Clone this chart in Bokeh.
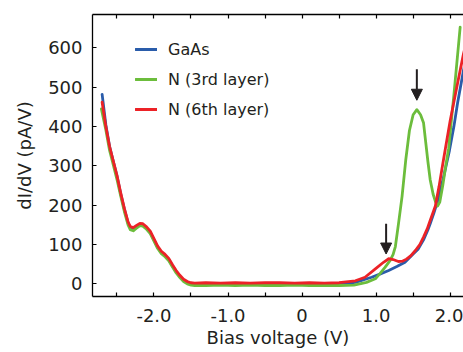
from bokeh.plotting import figure
from bokeh.models import (Range1d, LinearAxis, FixedTicker, Legend, LegendItem,
                          Arrow, NormalHead)
from bokeh.embed import file_html
from bokeh.resources import INLINE

# ---------------- data ----------------
gaas_x = [-2.70, -2.65, -2.60, -2.55, -2.50, -2.45, -2.40, -2.35, -2.32, -2.28, -2.24, -2.19,
          -2.15, -2.10, -2.05, -2.00, -1.95, -1.90, -1.85, -1.80, -1.75, -1.70, -1.65, -1.60,
          -1.55, -1.50, -1.45, -1.30, -1.10, -0.90, -0.70, -0.50, -0.30, -0.10, 0.10, 0.30,
          0.50, 0.72, 0.94, 1.05, 1.17, 1.28, 1.39, 1.50, 1.57, 1.64, 1.70, 1.73, 1.78, 1.82,
          1.87, 1.91, 1.95, 1.99, 2.05, 2.10, 2.18, 2.22]
gaas_y = [482, 405, 350, 312, 275, 230, 190, 155, 143, 140, 145, 151,
          150, 142, 131, 112, 93, 80, 72, 62, 46, 31, 19, 9,
          3, 0, -2, -2, -1, -2, -1, -2, -2, -1, -2, -1,
          -1, 4, 17, 25, 34, 44, 55, 76, 89, 112, 138, 153, 180, 204,
          240, 271, 305, 339, 400, 460, 543, 575]

n3_x = [-2.71, -2.65, -2.60, -2.55, -2.50, -2.45, -2.40, -2.35, -2.32, -2.28, -2.24, -2.19,
        -2.15, -2.10, -2.05, -2.00, -1.95, -1.90, -1.85, -1.80, -1.75, -1.70, -1.65, -1.60,
        -1.55, -1.50, -1.45, -1.30, -1.10, -0.90, -0.70, -0.50, -0.30, -0.10, 0.10, 0.30,
        0.50, 0.70, 0.87, 0.99, 1.06, 1.12, 1.19, 1.23, 1.26, 1.30, 1.35, 1.40, 1.45, 1.50,
        1.55, 1.60, 1.64, 1.67, 1.70, 1.73, 1.77, 1.80, 1.83, 1.86, 1.90, 1.94, 1.98, 2.05,
        2.135]
n3_y = [445, 392, 340, 303, 266, 224, 184, 150, 138, 135, 141, 148,
        147, 139, 128, 109, 90, 77, 69, 59, 43, 28, 16, 6,
        0, -3, -4, -4, -3, -4, -3, -4, -4, -3, -4, -4,
        -4, -3, 4, 13, 28, 42, 60, 75, 95, 150, 222, 315, 390, 430,
        443, 430, 410, 360, 310, 265, 228, 210, 198, 208, 250, 300, 345, 480,
        653]

n6_x = [-2.70, -2.65, -2.60, -2.55, -2.50, -2.45, -2.40, -2.35, -2.32, -2.28, -2.24, -2.19,
        -2.15, -2.10, -2.05, -2.00, -1.95, -1.90, -1.85, -1.80, -1.75, -1.70, -1.65, -1.60,
        -1.55, -1.50, -1.45, -1.30, -1.10, -0.90, -0.70, -0.50, -0.30, -0.10, 0.10, 0.30,
        0.50, 0.72, 0.85, 0.99, 1.10, 1.17, 1.23, 1.30, 1.36, 1.41, 1.47, 1.53, 1.59, 1.64,
        1.69, 1.73, 1.77, 1.80, 1.85, 1.90, 1.95, 2.00, 2.10, 2.18, 2.22]
n6_y = [462, 400, 350, 313, 276, 232, 192, 158, 146, 143, 148, 154,
        153, 145, 134, 115, 96, 83, 75, 65, 49, 34, 22, 12,
        6, 3, 2, 3, 2, 3, 2, 3, 3, 2, 3, 2,
        3, 8, 17, 38, 55, 64, 62, 57, 58, 63, 72, 85, 100, 119,
        140, 161, 182, 198, 248, 305, 360, 415, 510, 585, 615]

series_names = ["GaAs", "N (3rd layer)", "N (6th layer)"]
series_colors = ["#2a5caa", "#6cbd3c", "#ec2227"]

# arrows marking peaks (x, start y, end y)
arrow_x = [1.55, 1.135]
arrow_y_start = [546, 153]
arrow_y_end = [467, 76]

x_major = [-2, -1, 0, 1, 2]
x_minor = [-2.5, -1.5, -0.5, 0.5, 1.5]
x_labels = {-2: "-2.0", -1: "-1.0", 0: "0", 1: "1.0", 2: "2.0"}
y_ticks = [0, 100, 200, 300, 400, 500, 600]

FONT = "DejaVu Sans"
TXT = "#231f20"

# ---------------- figure ----------------
p = figure(width=463, height=352, output_backend="svg", toolbar_location=None,
           x_range=Range1d(-2.83, 2.18), y_range=Range1d(-32, 685),
           min_border_left=92, min_border_right=0, min_border_top=14, min_border_bottom=56,
           x_axis_location=None, y_axis_location=None)
p.outline_line_color = None
p.grid.visible = False
p.background_fill_color = "white"
p.border_fill_color = "white"

def style_axis(ax):
    ax.axis_line_color = "black"
    ax.axis_line_width = 1.3
    ax.major_tick_line_color = "black"
    ax.minor_tick_line_color = "black"
    ax.major_tick_line_width = 1.2
    ax.minor_tick_line_width = 1.2
    ax.major_tick_in = 4
    ax.major_tick_out = 0
    ax.minor_tick_in = 4
    ax.minor_tick_out = 0
    ax.major_label_text_font = FONT
    ax.major_label_text_font_size = "18px"
    ax.major_label_text_color = TXT
    ax.axis_label_text_font = FONT
    ax.axis_label_text_font_size = "18px"
    ax.axis_label_text_font_style = "normal"
    ax.axis_label_text_color = TXT

xb = LinearAxis(ticker=FixedTicker(ticks=x_major, minor_ticks=x_minor),
                axis_label="Bias voltage (V)", major_label_overrides=x_labels)
style_axis(xb)
xb.major_label_standoff = 12
xb.axis_label_standoff = 2
p.add_layout(xb, "below")

xt = LinearAxis(ticker=FixedTicker(ticks=x_major, minor_ticks=x_minor),
                major_label_overrides={t: "" for t in x_major})
style_axis(xt)
xt.major_label_standoff = 0
p.add_layout(xt, "above")

yl = LinearAxis(ticker=FixedTicker(ticks=y_ticks, minor_ticks=[]), axis_label="dI/dV (pA/V)")
style_axis(yl)
yl.major_label_standoff = 10
yl.axis_label_standoff = 10
p.add_layout(yl, "left")

renderers = []
for xs, ys, c in [(gaas_x, gaas_y, series_colors[0]),
                  (n3_x, n3_y, series_colors[1]),
                  (n6_x, n6_y, series_colors[2])]:
    r = p.line(xs, ys, line_color=c, line_width=2.8, line_join="round", line_cap="round")
    renderers.append(r)

legend = Legend(items=[LegendItem(label=n, renderers=[r]) for n, r in zip(series_names, renderers)],
                location=(43, 177), orientation="vertical")
legend.border_line_color = None
legend.background_fill_alpha = 0
legend.padding = 0
legend.margin = 0
legend.spacing = 10
legend.glyph_width = 22
legend.glyph_height = 20
legend.label_height = 20
legend.label_standoff = 11
legend.label_text_font = FONT
legend.label_text_font_size = "16px"
legend.label_text_color = TXT
p.add_layout(legend, "center")

for ax_, ys_, ye_ in zip(arrow_x, arrow_y_start, arrow_y_end):
    p.add_layout(Arrow(end=NormalHead(size=11, fill_color="#231f20", line_color="#231f20"),
                       x_start=ax_, y_start=ys_, x_end=ax_, y_end=ye_,
                       line_color="#231f20", line_width=2))

open("out.html", "w").write(file_html(p, INLINE))
